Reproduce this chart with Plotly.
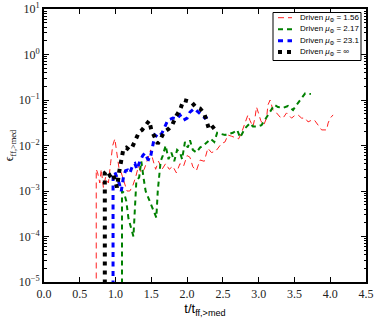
import plotly.graph_objects as go

# ---- data ----
red_x = [0.73, 0.73, 0.75, 0.78, 0.80, 0.83, 0.86, 0.90, 0.93, 0.96, 0.99, 1.02, 1.05, 1.08, 1.12, 1.16,
         1.20, 1.24, 1.28, 1.32, 1.36, 1.40, 1.45, 1.49, 1.52, 1.56, 1.60, 1.65, 1.70, 1.75, 1.80, 1.85,
         1.90, 1.95, 2.00, 2.04, 2.08, 2.13, 2.18, 2.24, 2.29, 2.34, 2.40, 2.48, 2.53, 2.57, 2.62, 2.67,
         2.72, 2.76, 2.81, 2.85, 2.88, 2.92, 2.95, 2.97, 3.00, 3.03, 3.07, 3.11, 3.13, 3.16, 3.20, 3.25,
         3.30, 3.34, 3.39, 3.46, 3.50, 3.55, 3.60, 3.65, 3.69, 3.74, 3.78, 3.83, 3.88, 3.95, 3.97, 4.00, 4.04]
red_y = [1e-8, 3e-3, 2.5e-3, 1.5e-3, 3e-3, 1.2e-3, 2e-3, 1.5e-3, 4e-3, 1e-2, 1.4e-2, 6e-3, 3e-3, 2.5e-3, 1.5e-3, 1.0e-3,
         1.0e-3, 1.3e-3, 2e-3, 3.5e-3, 2.5e-3, 3e-3, 5e-3, 8e-3, 5e-3, 3e-3, 4.5e-3, 3e-3, 4e-3, 3e-3, 3.5e-3, 2.5e-3,
         4e-3, 3.5e-3, 6e-3, 5.5e-3, 3.4e-3, 2.8e-3, 4.8e-3, 4.5e-3, 8.7e-3, 7e-3, 7.5e-3, 1.1e-2, 1.2e-2, 1.7e-2, 1.6e-2, 1.5e-2,
         1.4e-2, 1.9e-2, 3.1e-2, 4.7e-2, 3.5e-2, 2.6e-2, 4.2e-2, 7e-2, 5e-2, 3.5e-2, 2.8e-2, 4e-2, 7.8e-2, 0.1, 6e-2, 5.2e-2,
         4.2e-2, 4e-2, 5.2e-2, 4e-2, 4.5e-2, 4.7e-2, 4e-2, 4e-2, 3.3e-2, 3.6e-2, 3.6e-2, 2.8e-2, 2.2e-2, 2.2e-2, 3.1e-2, 4e-2, 4.7e-2]

green_x = [1.09, 1.09, 1.12, 1.15, 1.18, 1.22, 1.25, 1.27, 1.29, 1.33, 1.36, 1.39, 1.42, 1.46, 1.50, 1.55,
           1.57, 1.59, 1.61, 1.63, 1.66, 1.70, 1.74, 1.78, 1.82, 1.86, 1.90, 1.93, 1.97, 2.01, 2.04, 2.08,
           2.13, 2.18, 2.23, 2.28, 2.33, 2.38, 2.42, 2.47, 2.53, 2.58, 2.64, 2.70, 2.74, 2.81, 2.88, 2.92,
           2.98, 3.04, 3.11, 3.16, 3.22, 3.27, 3.34, 3.41, 3.48, 3.53, 3.58, 3.65, 3.73]
green_y = [1e-8, 1.0e-3, 9e-4, 6e-4, 2.5e-4, 1.4e-4, 1.0e-4, 4e-4, 1.6e-3, 2e-3, 4.5e-3, 2e-3, 1e-3, 7e-4, 5e-4, 3e-4,
           2.6e-4, 1e-3, 2.5e-3, 4.5e-3, 6e-3, 1e-2, 5e-3, 7e-3, 4.5e-3, 8e-3, 7e-3, 5e-3, 1.2e-2, 9e-3, 1.3e-2, 8e-3,
           7e-3, 9e-3, 1e-2, 1.2e-2, 1.4e-2, 1.2e-2, 1.9e-2, 1.8e-2, 1.7e-2, 1.8e-2, 1.9e-2, 2.2e-2, 1.5e-2, 2.4e-2, 3.1e-2, 2.6e-2,
           2.6e-2, 2.8e-2, 4.2e-2, 5.4e-2, 7.8e-2, 7e-2, 6.7e-2, 7.4e-2, 6e-2, 7.8e-2, 0.1, 0.14, 0.135]

blue_x = [0.965, 0.965, 0.99, 1.02, 1.05, 1.08, 1.11, 1.14, 1.17, 1.20, 1.24, 1.27, 1.30, 1.34, 1.38, 1.41,
          1.45, 1.48, 1.52, 1.55, 1.60, 1.65, 1.69, 1.73, 1.80, 1.86, 1.90, 1.95, 2.00, 2.04, 2.10, 2.15, 2.20, 2.25, 2.32]
blue_y = [1e-8, 2e-3, 2.6e-3, 2e-3, 1.5e-3, 1e-3, 2e-3, 2.8e-3, 2.9e-3, 2.5e-3, 3.7e-3, 4e-3, 3e-3, 4.5e-3, 6e-3, 6.8e-3,
          5e-3, 4.8e-3, 1.1e-2, 1.7e-2, 1.5e-2, 1.9e-2, 2.6e-2, 3.6e-2, 4e-2, 3.8e-2, 4.7e-2, 3.6e-2, 4e-2, 5.4e-2, 6.5e-2, 5.5e-2, 4.5e-2, 4e-2, 4.7e-2]

black_x = [0.85, 0.85, 0.88, 0.92, 0.96, 0.99, 1.02, 1.05, 1.08, 1.11, 1.15, 1.19, 1.23, 1.28, 1.33, 1.37,
           1.42, 1.47, 1.50, 1.55, 1.59, 1.63, 1.68, 1.74, 1.79, 1.85, 1.90, 1.95, 2.00, 2.06, 2.12, 2.18,
           2.24, 2.28, 2.31, 2.36, 2.42]
black_y = [1e-8, 2.5e-3, 2.8e-3, 2.2e-3, 2.5e-3, 1.8e-3, 1.2e-3, 2.6e-3, 5e-3, 8.5e-3, 9e-3, 8e-3, 9e-3, 1.4e-2, 2e-2, 2.2e-2,
           2.8e-2, 3.5e-2, 2.2e-2, 1.4e-2, 1.1e-2, 1.4e-2, 2e-2, 2.3e-2, 2.8e-2, 4.5e-2, 6e-2, 0.1, 0.095, 0.09, 0.07, 0.065,
           0.05, 0.03, 0.022, 0.025, 0.03]

series_names = ["Driven <i>μ</i><sub>Φ</sub> = 1.56", "Driven <i>μ</i><sub>Φ</sub> = 2.17",
                "Driven <i>μ</i><sub>Φ</sub> = 23.1", "Driven <i>μ</i><sub>Φ</sub> = ∞"]
x_ticks = [0.0, 0.5, 1.0, 1.5, 2.0, 2.5, 3.0, 3.5, 4.0, 4.5]
y_tick_exps = [-5, -4, -3, -2, -1, 0, 1]

# styles
styles = [
    dict(color="#ff2020", width=1.0, dash="6px,4px"),
    dict(color="#008000", width=2.0, dash="5px,4px"),
    dict(color="#0000ff", width=3.0, dash="5px,4.5px"),
    dict(color="#000000", width=4.0, dash="4px,5px"),
]
data = [(red_x, red_y), (green_x, green_y), (blue_x, blue_y), (black_x, black_y)]

# layout geometry (pixels)
W, H = 374, 318
ML, MR, MT, MB = 44, 8, 9, 36
PW, PH = W - ML - MR, H - MT - MB


def pxx(p):
    return (p - ML) / PW


def pxy(p):
    return (H - MB - p) / PH


fig = go.Figure()
for (xs, ys), st, name in zip(data, styles, series_names):
    fig.add_trace(go.Scatter(x=xs, y=ys, mode="lines", name=name, showlegend=False,
                             line=st))

# compact legend box (matplotlib-like)
shapes = [dict(type="rect", xref="paper", yref="paper",
               x0=pxx(273), x1=pxx(361), y0=pxy(60.5), y1=pxy(12.5),
               line=dict(color="black", width=1), fillcolor="white", layer="above")]
annotations = []
row_y = [17.7, 29.2, 40.7, 52.0]
for st, name, ry in zip(styles, series_names, row_y):
    shapes.append(dict(type="line", xref="paper", yref="paper",
                       x0=pxx(278), x1=pxx(292), y0=pxy(ry), y1=pxy(ry),
                       line=st, layer="above"))
    annotations.append(dict(xref="paper", yref="paper", x=pxx(298), y=pxy(ry),
                            xanchor="left", yanchor="middle", showarrow=False,
                            text=name, font=dict(family="Liberation Sans", size=8, color="black")))

serif = "Liberation Serif"
fig.update_layout(
    width=W, height=H,
    margin=dict(l=ML, r=MR, t=MT, b=MB),
    paper_bgcolor="white", plot_bgcolor="white",
    showlegend=False,
    shapes=shapes, annotations=annotations,
    font=dict(family=serif, color="black"),
)
fig.update_xaxes(
    range=[0, 4.5], tickvals=x_ticks, ticktext=[f"{v:.1f}" for v in x_ticks],
    ticks="inside", ticklen=5, tickwidth=1, tickcolor="black",
    showline=True, linewidth=2, linecolor="black", mirror="allticks",
    showgrid=False, zeroline=False, automargin=False, ticklabeloverflow="allow",
    tickfont=dict(family=serif, size=12, color="#222"),
    title=dict(text="t/t<sub>ff,>med</sub>", font=dict(family="Liberation Sans", size=13, color="black"), standoff=12),
)
fig.update_yaxes(
    type="log", range=[-5, 1],
    tickvals=[10.0 ** e for e in y_tick_exps],
    ticktext=[f"10<sup>{'−' if e < 0 else ''}{abs(e)}</sup>" for e in y_tick_exps],
    ticks="inside", ticklen=5, tickwidth=1, tickcolor="black",
    minor=dict(ticks="inside", ticklen=2.5, tickcolor="black", dtick="D1", showgrid=False),
    showline=True, linewidth=2, linecolor="black", mirror="allticks",
    showgrid=False, zeroline=False, automargin=False, ticklabeloverflow="allow",
    tickfont=dict(family=serif, size=12, color="#222"),
    title=dict(text="ϵ<sub>ff,>med</sub>", font=dict(family=serif, size=12, color="black"), standoff=2),
)

fig.write_html("out.html", config={"displayModeBar": False},
               post_script="document.body.style.margin='0px';document.body.style.overflow='hidden';")
